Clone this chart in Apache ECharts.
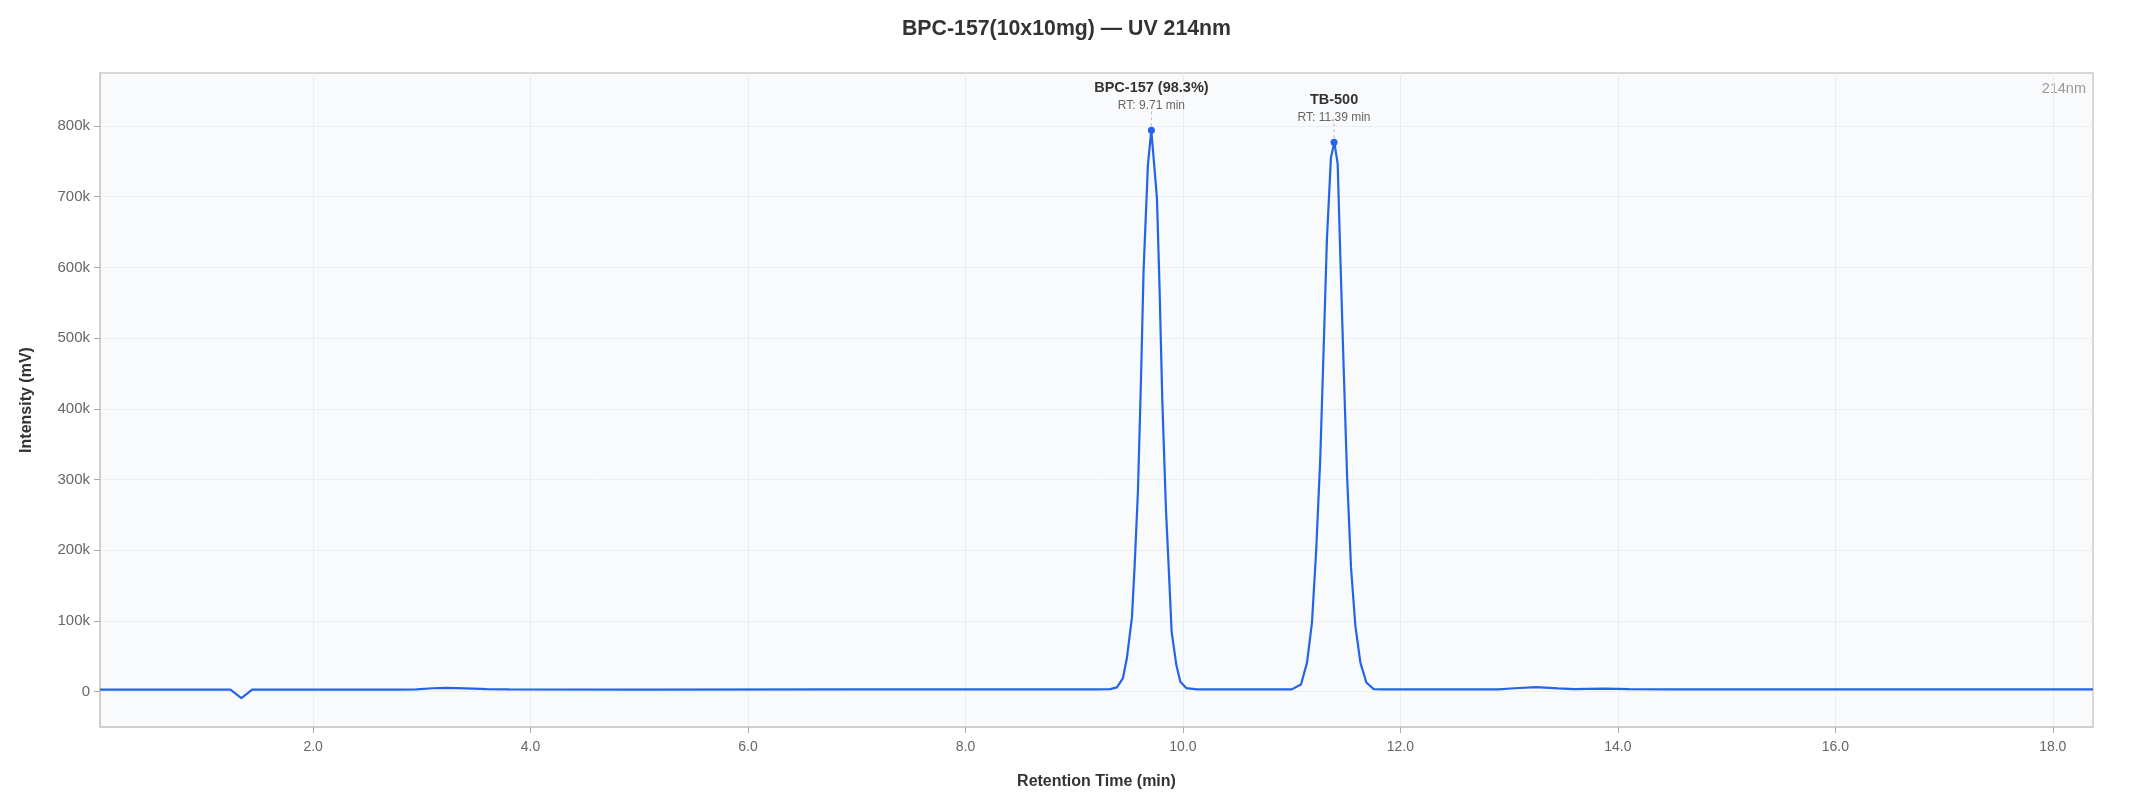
<!DOCTYPE html>
<html>
<head>
<meta charset="utf-8">
<script src="https://cdn.jsdelivr.net/npm/echarts@6/dist/echarts.min.js"></script>
<style>
html,body{margin:0;padding:0;background:#fff;}
#chart{width:2133px;height:800px;}
</style>
</head>
<body>
<div id="chart"></div>
<script>
// Retention time (min) and detector intensity (mV)
var times = [0.04, 1.24, 1.34, 1.44, 2.80, 2.95, 3.10, 3.23, 3.40, 3.60, 3.80, 5.00, 7.00, 8.50, 9.20, 9.33,
  9.393, 9.448, 9.485, 9.531, 9.556, 9.586, 9.614, 9.638, 9.678, 9.709, 9.761, 9.785, 9.810, 9.844, 9.868,
  9.896, 9.939, 9.976, 10.03, 10.13, 11.00, 11.018, 11.086, 11.141, 11.187, 11.226, 11.263, 11.294, 11.324,
  11.361, 11.392, 11.423, 11.448, 11.478, 11.510, 11.546, 11.586, 11.632, 11.687, 11.754, 11.85, 12.90,
  13.05, 13.25, 13.45, 13.60, 13.87, 14.10, 14.50, 18.37];
var intensity = [3000, 3000, -9000, 3000, 3000, 3300, 4800, 5400, 4600, 3600, 3100, 3000, 3100, 3200, 3300, 3600,
  6000, 19000, 48000, 105000, 179000, 283000, 440000, 596000, 745000, 794000, 698000, 570000, 413000, 257000, 179000,
  85000, 38000, 14000, 5000, 3200, 3200, 3500, 10000, 41000, 98000, 201000, 330000, 485000, 639000,
  755000, 777000, 747000, 613000, 459000, 304000, 175000, 93000, 41000, 13000, 3500, 3200, 3300,
  4800, 6300, 4700, 3700, 4400, 3500, 3200, 3200];

// Annotated peaks
var peakNames = ['BPC-157 (98.3%)', 'TB-500'];
var peakTimes = [9.71, 11.39];
var peakValues = [794000, 777000];

// Tick values
var xTicks = [2, 4, 6, 8, 10, 12, 14, 16, 18];
var yTicks = [0, 100000, 200000, 300000, 400000, 500000, 600000, 700000, 800000];

var FONT = '"Liberation Sans", Arial, Helvetica, sans-serif';
var BLUE = '#2563eb';

var lineData = times.map(function (t, i) { return [t, intensity[i]]; });
var peakData = peakTimes.map(function (t, i) { return [t, peakValues[i], i]; });

var chart = echarts.init(document.getElementById('chart'), null, {renderer: 'canvas'});
chart.setOption({
  animation: false,
  backgroundColor: '#ffffff',
  textStyle: {fontFamily: FONT},
  title: {
    text: 'BPC-157(10x10mg) — UV 214nm',
    left: 'center',
    top: 14,
    textStyle: {fontFamily: FONT, fontSize: 21.3, fontWeight: 'bold', color: '#333333'}
  },
  grid: {
    left: 100, right: 40, top: 73, bottom: 73,
    show: true, backgroundColor: '#f9fafb', borderColor: '#cccccc', borderWidth: 1.5,
    containLabel: false
  },
  graphic: [{
    type: 'text', right: 47, top: 81,
    style: {text: '214nm', fill: '#999999', font: '14.5px ' + FONT}
  }],
  xAxis: {
    type: 'value',
    min: 0.04, max: 18.37,
    name: 'Retention Time (min)',
    nameLocation: 'middle',
    nameGap: 47,
    nameTextStyle: {fontFamily: FONT, fontSize: 16, fontWeight: 'bold', color: '#333333'},
    axisLine: {show: true, onZero: false, lineStyle: {color: '#cccccc', width: 1.5}},
    axisTick: {show: true, length: 6, lineStyle: {color: '#aaaaaa'}, customValues: xTicks},
    axisLabel: {
      customValues: xTicks, margin: 13, fontSize: 14, color: '#666666', fontFamily: FONT,
      formatter: function (v) { return v.toFixed(1); }
    },
    splitLine: {show: true, lineStyle: {color: '#eceef1', width: 1}}
  },
  yAxis: {
    type: 'value',
    min: -50000, max: 875000,
    name: 'Intensity (mV)',
    nameLocation: 'middle',
    nameGap: 65,
    nameTextStyle: {fontFamily: FONT, fontSize: 16, fontWeight: 'bold', color: '#333333'},
    axisLine: {show: true, onZero: false, lineStyle: {color: '#cccccc', width: 1.5}},
    axisTick: {show: true, length: 6, lineStyle: {color: '#aaaaaa'}, customValues: yTicks},
    axisLabel: {
      customValues: yTicks, margin: 10, fontSize: 15, color: '#666666', fontFamily: FONT,
      padding: [3, 0, 0, 0],
      formatter: function (v) { return v === 0 ? '0' : (v / 1000) + 'k'; }
    },
    splitLine: {show: true, lineStyle: {color: '#eceef1', width: 1}}
  },
  series: [{
    type: 'line',
    data: lineData,
    showSymbol: false,
    smooth: false,
    lineStyle: {color: BLUE, width: 2.2},
    itemStyle: {color: BLUE},
    z: 3
  }, {
    type: 'custom',
    data: peakData,
    clip: false,
    z: 5,
    renderItem: function (params, api) {
      var p = api.coord([api.value(0), api.value(1)]);
      var i = api.value(2);
      return {
        type: 'group',
        children: [{
          type: 'line',
          shape: {x1: p[0], y1: p[1] - 19, x2: p[0], y2: p[1] - 3},
          style: {stroke: '#bbbbbb', lineWidth: 1, lineDash: [3, 3]}
        }, {
          type: 'circle',
          shape: {cx: p[0], cy: p[1], r: 3.5},
          style: {fill: BLUE}
        }, {
          type: 'text', x: p[0], y: p[1] - 42.5,
          style: {text: peakNames[i], fill: '#333333', font: 'bold 14.5px ' + FONT, align: 'center', verticalAlign: 'middle'}
        }, {
          type: 'text', x: p[0], y: p[1] - 24.5,
          style: {text: 'RT: ' + peakTimes[i].toFixed(2) + ' min', fill: '#666666', font: '12px ' + FONT, align: 'center', verticalAlign: 'middle'}
        }]
      };
    }
  }]
});
</script>
</body>
</html>
